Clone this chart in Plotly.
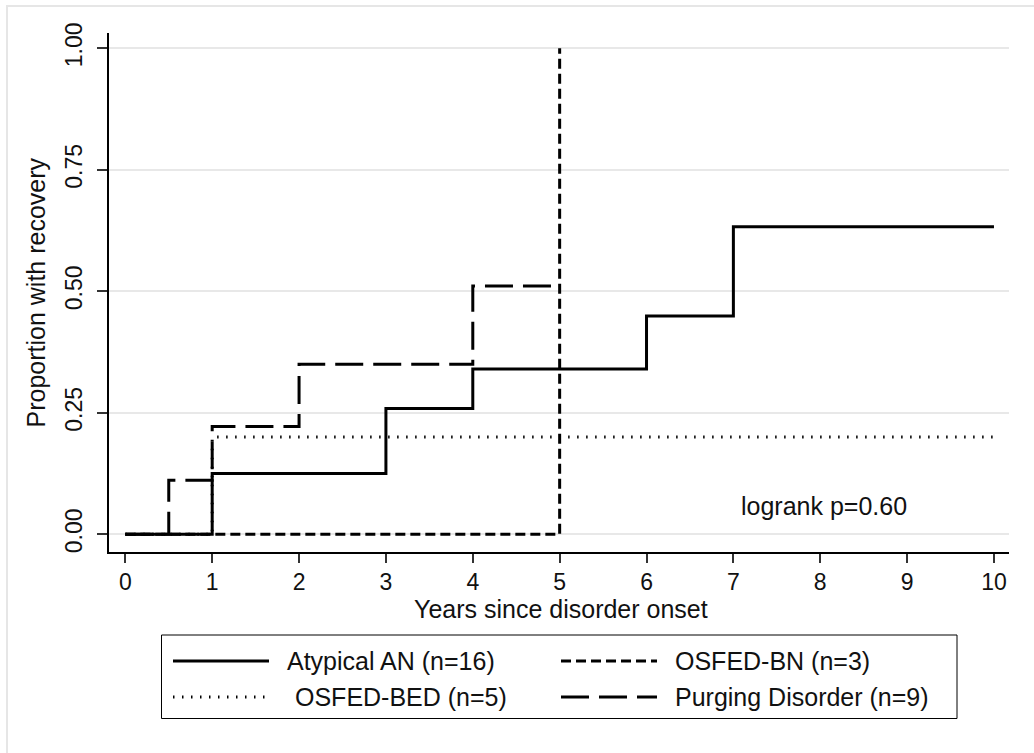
import plotly.graph_objects as go

# Kaplan-Meier step estimates (proportion recovered) by diagnostic group
an_years = [0, 1, 3, 4, 6, 7, 10]
an_prop = [0, 0.125, 0.259, 0.340, 0.449, 0.633, 0.633]

bn_years = [0, 5]
bn_prop = [0, 1.0]

bed_years = [0, 1, 10]
bed_prop = [0, 0.20, 0.20]

pd_years = [0, 0.5, 1, 2, 4, 5]
pd_prop = [0, 0.111, 0.222, 0.350, 0.511, 0.511]

group_labels = ["Atypical AN (n=16)", "OSFED-BN (n=3)",
                "OSFED-BED (n=5)", "Purging Disorder (n=9)"]
y_ticks = [0, 0.25, 0.5, 0.75, 1.0]
y_tick_text = ["0.00", "0.25", "0.50", "0.75", "1.00"]
x_ticks = list(range(0, 11))
logrank_text = "logrank p=0.60"

FONT = "Liberation Sans, Arial, Helvetica, sans-serif"
INK = "#111111"
W, H = 1034, 753
L, R, T, B = 109, 1009, 33, 552  # plot area edges in px


def px(x):
    return (x - L) / (R - L)


def py(y):
    return (B - y) / (B - T)


styles = [
    dict(dash="solid", width=3),
    dict(dash="10px,5px", width=3),
    dict(dash="1.5px,7.5px", width=3),
    dict(dash="28px,10px", width=3),
]
series = [(an_years, an_prop), (bn_years, bn_prop),
          (bed_years, bed_prop), (pd_years, pd_prop)]

fig = go.Figure()
for (xs, ys), st, name in zip(series, styles, group_labels):
    fig.add_trace(go.Scatter(
        x=xs, y=ys, mode="lines", name=name, showlegend=False,
        line=dict(shape="hv", color="black", width=st["width"], dash=st["dash"]),
    ))

fig.add_annotation(x=8.04, y=0.058, xref="x", yref="y", text=logrank_text,
                   xanchor="center", yanchor="middle",
                   showarrow=False, font=dict(family=FONT, size=25, color=INK))

# axis titles
fig.add_annotation(x=px(35), y=0.5, xref="paper", yref="paper",
                   xanchor="center", yanchor="middle",
                   text="Proportion with recovery", textangle=-90,
                   showarrow=False, font=dict(family=FONT, size=25, color=INK))
fig.add_annotation(x=px(561), y=py(609), xref="paper", yref="paper",
                   xanchor="center", yanchor="middle",
                   text="Years since disorder onset",
                   showarrow=False, font=dict(family=FONT, size=25, color=INK))

shapes = []
# outer light frame
shapes.append(dict(type="rect", xref="paper", yref="paper",
                   x0=px(7), x1=px(1045), y0=py(765), y1=py(6),
                   line=dict(color="#e6e6e6", width=2), layer="below"))
# legend box
shapes.append(dict(type="rect", xref="paper", yref="paper",
                   x0=px(161.5), x1=px(957), y0=py(718.5), y1=py(635),
                   line=dict(color="black", width=1)))

legend_slots = [
    (173, 269, 285, 661),
    (561, 657, 673, 661),
    (173, 269, 293, 697),
    (561, 657, 673, 697),
]
for (x0, x1, xt, yc), st, name in zip(legend_slots, styles, group_labels):
    shapes.append(dict(type="line", xref="paper", yref="paper",
                       x0=px(x0), x1=px(x1), y0=py(yc), y1=py(yc),
                       line=dict(color="black", width=st["width"], dash=st["dash"])))
    fig.add_annotation(x=px(xt), y=py(yc), xref="paper", yref="paper",
                       text=name, xanchor="left", yanchor="middle", showarrow=False,
                       font=dict(family=FONT, size=25, color=INK))

fig.update_layout(
    width=W, height=H,
    margin=dict(l=L, r=W - R, t=T, b=H - B),
    paper_bgcolor="white", plot_bgcolor="white",
    shapes=shapes,
    font=dict(family=FONT, color=INK),
    xaxis=dict(range=[-0.188, 10.173], tickvals=x_ticks,
               showgrid=False, zeroline=False,
               showline=True, linecolor="black", linewidth=1.5,
               ticks="outside", ticklen=9, tickwidth=1.5, tickcolor="#333",
               tickfont=dict(family=FONT, size=23, color=INK)),
    yaxis=dict(range=[-0.0364, 1.0315], tickvals=y_ticks, ticktext=y_tick_text,
               showgrid=True, gridcolor="#e8e8e8", gridwidth=2,
               zeroline=False,
               showline=True, linecolor="black", linewidth=1.5,
               ticks="outside", ticklen=10, tickwidth=1.5, tickcolor="#333",
               tickangle=-90, ticklabelstandoff=6,
               tickfont=dict(family=FONT, size=23, color=INK)),
)

fig.write_html("out.html")
